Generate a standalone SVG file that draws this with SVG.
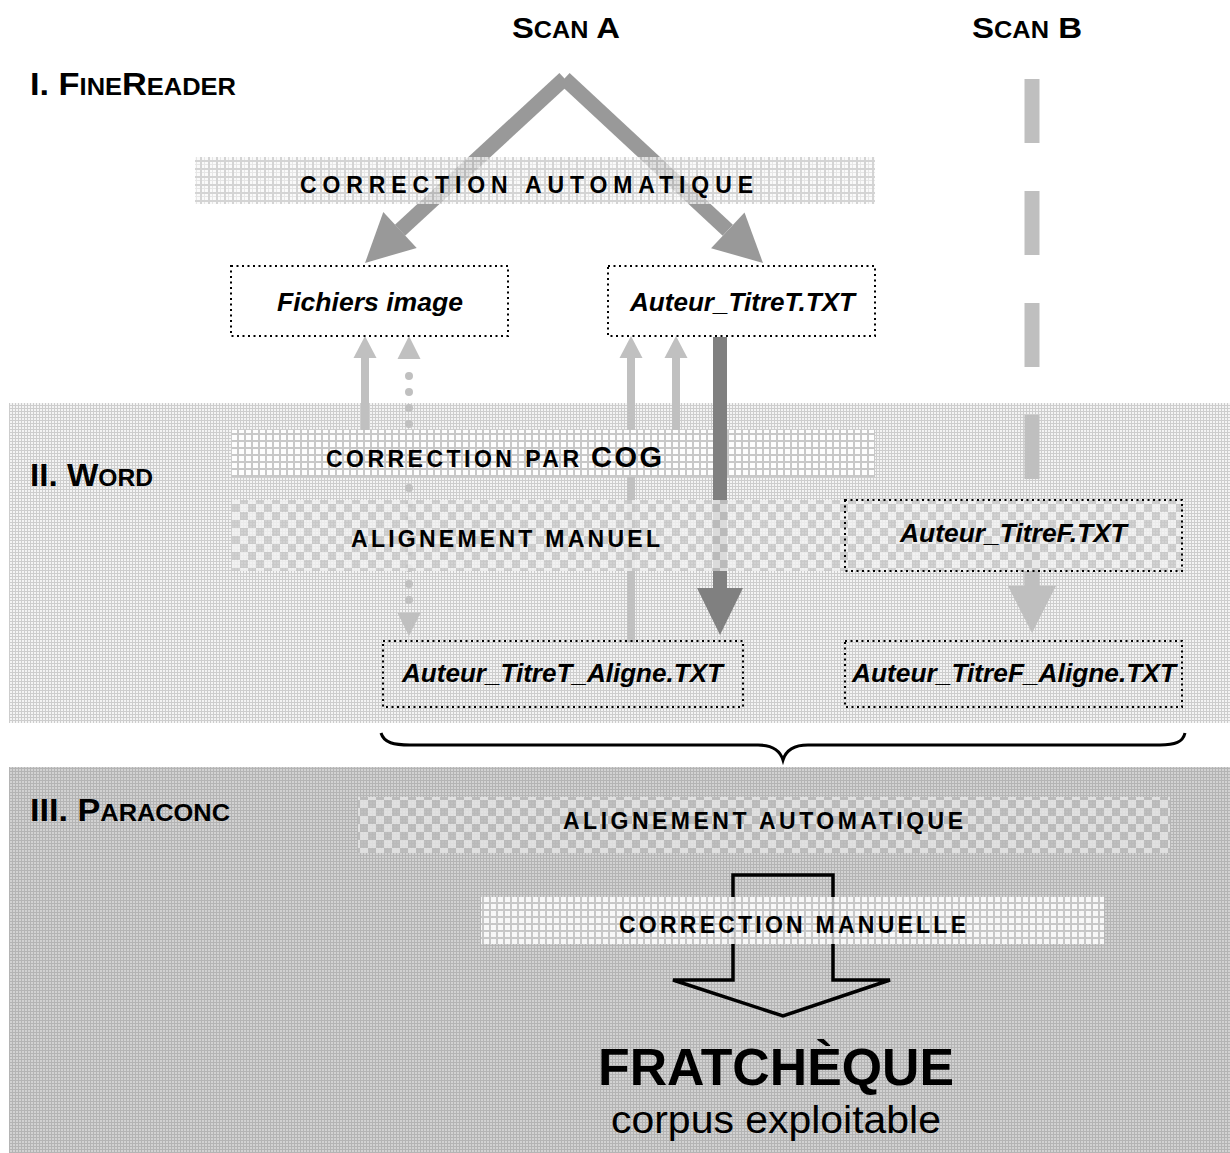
<svg xmlns="http://www.w3.org/2000/svg" width="1230" height="1153" viewBox="0 0 1230 1153">
<defs>
<pattern id="fineLight" width="3" height="3" patternUnits="userSpaceOnUse"><rect width="3" height="3" fill="#f4f4f4"/><rect width="3" height="1" fill="#cdcdcd"/><rect width="1" height="3" fill="#cdcdcd"/></pattern>
<pattern id="fineDark" width="3" height="3" patternUnits="userSpaceOnUse"><rect width="3" height="3" fill="#d2d2d2"/><rect width="3" height="1" fill="#b4b4b4"/><rect width="1" height="3" fill="#b4b4b4"/></pattern>
<pattern id="gridBig" width="8" height="8" patternUnits="userSpaceOnUse"><rect width="8" height="8" fill="#f8f8f8"/><rect x="4" width="1" height="8" fill="#dedede"/><rect y="4" width="8" height="1" fill="#dedede"/><rect width="8" height="2" fill="#c6c6c6"/><rect width="2" height="8" fill="#c6c6c6"/></pattern>
<pattern id="whiteSq" width="7" height="7" patternUnits="userSpaceOnUse"><rect width="7" height="7" fill="#c8c8c8"/><rect x="1" y="1" width="5" height="5" fill="#fdfdfd"/></pattern>
<pattern id="checkL" width="16" height="16" patternUnits="userSpaceOnUse"><rect width="16" height="16" fill="#f2f2f2"/><rect width="8" height="8" fill="#c8c8c8"/><rect x="8" y="8" width="8" height="8" fill="#c8c8c8"/></pattern>
<pattern id="checkD" width="16" height="16" patternUnits="userSpaceOnUse"><rect width="16" height="16" fill="#e4e4e4"/><rect width="8" height="8" fill="#bababa"/><rect x="8" y="8" width="8" height="8" fill="#bababa"/></pattern>
</defs>
<style>
.title{font-family:"Liberation Sans",Arial,sans-serif;font-weight:bold;fill:#000}
.sp{font-family:"Liberation Sans",Arial,sans-serif;font-weight:bold;font-size:23px;fill:#000}
.file{font-family:"Liberation Sans",Arial,sans-serif;font-weight:bold;font-style:italic;font-size:25px;fill:#000}
.box{fill:none;stroke:#000;stroke-width:2;stroke-dasharray:2 3.5}
.lt{fill:#c0c0c0}
.ltl{stroke:#c0c0c0;stroke-width:8;fill:none}
</style>

<g id="phases">
<rect id="band-word" x="9" y="403" width="1221" height="320" fill="url(#fineLight)"/>
<rect id="band-paraconc" x="9" y="767" width="1221" height="386" fill="url(#fineDark)"/>
</g>

<g id="connectors">
<line x1="564.5" y1="78.5" x2="400" y2="230.3" stroke="#999" stroke-width="15"/>
<polygon points="365,263 416.7,247.9 383.3,212.1" fill="#999"/>
<line x1="564.5" y1="78.5" x2="727.8" y2="230.3" stroke="#999" stroke-width="15"/>
<polygon points="763,263 744.5,212.4 711.1,248.2" fill="#999"/>
<line x1="1032" y1="79" x2="1032" y2="591" stroke="#bfbfbf" stroke-width="15" stroke-dasharray="64 48"/>
<line class="ltl" x1="631" y1="642" x2="631" y2="356"/>
<polygon class="lt" points="631,336 642.5,358 619.5,358"/>
<line x1="409" y1="376" x2="409" y2="604" stroke="#c0c0c0" stroke-width="8" stroke-linecap="round" stroke-dasharray="0 16"/>
<polygon class="lt" points="409,336 420.5,359 397.5,359"/>
<polygon class="lt" points="409,636 420.5,613 397.5,613"/>
</g>

<g id="node-correction-automatique">
<rect x="195" y="157" width="680" height="47" fill="url(#gridBig)" fill-opacity="0.75"/>
<text class="sp" x="300" y="193" textLength="453" lengthAdjust="spacing">CORRECTION AUTOMATIQUE</text>
</g>

<g id="node-correction-cog">
<rect x="232" y="430" width="643" height="47" fill="url(#whiteSq)"/>
</g>

<g id="connectors-2">
<line class="ltl" x1="365" y1="430" x2="365" y2="356"/>
<polygon class="lt" points="365,336 376.5,358 353.5,358"/>
<line class="ltl" x1="676" y1="430" x2="676" y2="356"/>
<polygon class="lt" points="676,336 687.5,358 664.5,358"/>
<line x1="720" y1="337" x2="720" y2="590" stroke="#808080" stroke-width="14"/>
<polygon points="697,588 743,588 720,635" fill="#808080"/>
</g>

<g id="node-alignement-manuel">
<rect x="232" y="500" width="951" height="71" fill="url(#checkL)" opacity="0.8"/>
<text class="sp" x="351" y="547" textLength="309" lengthAdjust="spacing">ALIGNEMENT MANUEL</text>
</g>

<g id="cog-label">
<text class="sp" x="326" y="467" textLength="253" lengthAdjust="spacing">CORRECTION PAR</text>
<text class="sp" x="591" y="467" style="font-size:29px" textLength="71" lengthAdjust="spacing">COG</text>
</g>

<g id="connectors-3">
<line x1="1032" y1="571" x2="1032" y2="590" stroke="#bfbfbf" stroke-width="15"/>
<polygon points="1008,586 1056,586 1032,633" fill="#bfbfbf"/>
</g>

<g id="titles">
<text class="title" x="512" y="38" textLength="108" lengthAdjust="spacingAndGlyphs"><tspan font-size="30">S</tspan><tspan font-size="23">CAN</tspan><tspan font-size="30"> A</tspan></text>
<text class="title" x="972" y="38" textLength="110" lengthAdjust="spacingAndGlyphs"><tspan font-size="30">S</tspan><tspan font-size="23">CAN</tspan><tspan font-size="30"> B</tspan></text>
<text class="title" x="30" y="95" textLength="206" lengthAdjust="spacingAndGlyphs"><tspan font-size="31">I. F</tspan><tspan font-size="23">INE</tspan><tspan font-size="31">R</tspan><tspan font-size="23">EADER</tspan></text>
<text class="title" x="30" y="486" textLength="123" lengthAdjust="spacingAndGlyphs"><tspan font-size="31">II. W</tspan><tspan font-size="23">ORD</tspan></text>
<text class="title" x="30" y="821" textLength="200" lengthAdjust="spacingAndGlyphs"><tspan font-size="31">III. P</tspan><tspan font-size="23">ARACONC</tspan></text>
</g>

<g id="node-fichiers-image">
<rect class="box" x="231" y="266" width="277" height="70" fill="#fff"/>
<text class="file" x="277" y="311" textLength="186" lengthAdjust="spacingAndGlyphs">Fichiers image</text>
</g>
<g id="node-auteur-titreT">
<rect class="box" x="608" y="266" width="267" height="70"/>
<text class="file" x="630" y="311" textLength="225" lengthAdjust="spacingAndGlyphs">Auteur_TitreT.TXT</text>
</g>
<g id="node-auteur-titreF">
<rect class="box" x="845" y="500" width="337" height="71"/>
<text class="file" x="900" y="542" textLength="227" lengthAdjust="spacingAndGlyphs">Auteur_TitreF.TXT</text>
</g>
<g id="node-auteur-titreT-aligne">
<rect class="box" x="383" y="641" width="360" height="66"/>
<text class="file" x="402" y="682" textLength="321" lengthAdjust="spacingAndGlyphs">Auteur_TitreT_Aligne.TXT</text>
</g>
<g id="node-auteur-titreF-aligne">
<rect class="box" x="845" y="641" width="337" height="66"/>
<text class="file" x="852" y="682" textLength="324" lengthAdjust="spacingAndGlyphs">Auteur_TitreF_Aligne.TXT</text>
</g>

<g id="brace">
<path d="M381,733 C384,743 394,745 410,745 L758,745 C772,745 780,750 783,760 C786,750 794,745 808,745 L1160,745 C1175,745 1183,742 1185,733" fill="none" stroke="#000" stroke-width="3"/>
</g>

<g id="node-alignement-automatique">
<rect x="358" y="797" width="812" height="56" fill="url(#checkD)" opacity="0.85"/>
<text class="sp" x="563" y="829" textLength="400" lengthAdjust="spacing">ALIGNEMENT AUTOMATIQUE</text>
</g>

<g id="big-arrow">
<polygon points="733,875 833,875 833,980 890,980 783,1016 673,980 733,980" fill="none" stroke="#000" stroke-width="3.5"/>
</g>

<g id="node-correction-manuelle">
<rect x="481" y="897" width="623" height="47" fill="url(#whiteSq)" opacity="0.9"/>
<text class="sp" x="619" y="933" textLength="347" lengthAdjust="spacing">CORRECTION MANUELLE</text>
</g>

<g id="node-fratcheque">
<text class="title" x="598" y="1085" font-size="52" textLength="356" lengthAdjust="spacingAndGlyphs">FRATCHÈQUE</text>
<text x="611" y="1133" font-family="Liberation Sans, Arial, sans-serif" font-size="38" textLength="330" lengthAdjust="spacingAndGlyphs">corpus exploitable</text>
</g>
</svg>
